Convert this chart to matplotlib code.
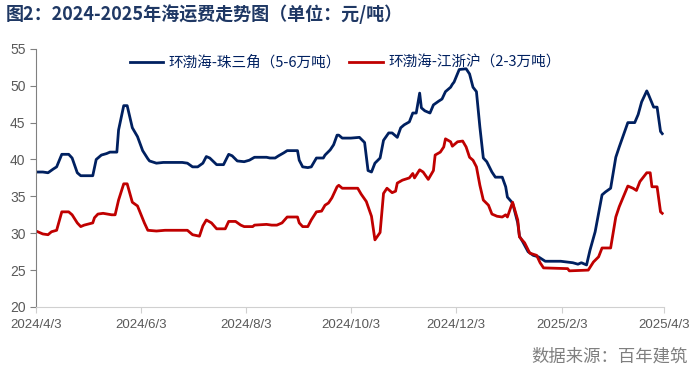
import matplotlib
matplotlib.use("Agg")
import matplotlib.pyplot as plt
import pandas as pd

plt.rcParams['font.family'] = ['Noto Sans CJK SC', 'DejaVu Sans']

start = pd.Timestamp("2024-04-03")

# 环渤海-珠三角（5-6万吨）: days since 2024/4/3, freight (元/吨)
north_south_days = [0, 4, 7, 10, 12, 15, 19, 21, 24, 26, 33, 35, 38, 41, 43, 47, 48, 51, 53, 56,
                    59, 62, 65, 66, 70, 74, 85, 88, 91, 94, 97, 99, 101, 105, 109, 112, 114, 117,
                    121, 124, 127, 134, 136, 139, 141, 144, 146, 152, 153, 155, 158, 160, 163,
                    167, 168, 171, 173, 175, 176, 178, 183, 188, 191, 193, 195, 197, 200, 202,
                    205, 207, 210, 212, 214, 217, 219, 221, 223, 224, 226, 229, 231, 234, 236,
                    238, 241, 242, 243, 246, 250, 252, 254, 256, 258, 260, 262, 265, 267, 271,
                    273, 274, 277, 280, 281, 283, 286, 289, 292, 294, 296, 305, 312, 315, 317,
                    320, 322, 325, 329, 331, 334, 337, 339, 344, 348, 350, 352, 355, 356, 359,
                    361, 363, 364]
north_south = [38.3, 38.3, 38.2, 38.7, 39.0, 40.7, 40.7, 40.2, 38.2, 37.8, 37.8, 40.0, 40.6, 40.8,
               41.0, 41.0, 44.0, 47.3, 47.3, 44.3, 43.1, 41.2, 40.1, 39.8, 39.5, 39.6, 39.6, 39.5,
               39.0, 39.0, 39.5, 40.4, 40.2, 39.3, 39.3, 40.7, 40.5, 39.8, 39.7, 39.9, 40.3, 40.3,
               40.2, 40.2, 40.5, 40.9, 41.2, 41.2, 39.9, 39.0, 38.9, 39.0, 40.2, 40.2, 40.6, 41.3,
               42.0, 43.3, 43.3, 42.9, 42.9, 43.0, 42.3, 38.5, 38.3, 39.5, 40.2, 42.6, 43.6, 43.6,
               43.0, 44.3, 44.7, 45.1, 46.3, 46.3, 49.0, 47.0, 46.6, 46.3, 47.4, 47.9, 48.2, 49.2,
               49.8, 50.2, 50.5, 52.2, 52.3, 51.6, 49.8, 49.2, 44.4, 40.2, 39.7, 38.3, 37.6, 37.6,
               36.3, 34.9, 34.1, 31.4, 29.6, 28.8, 27.5, 27.0, 26.8, 26.5, 26.2, 26.2, 26.0, 25.8,
               26.0, 25.7, 27.7, 30.2, 35.2, 35.6, 36.1, 40.3, 41.7, 45.0, 45.0, 46.1, 47.8, 49.3,
               48.8, 47.1, 47.1, 43.8, 43.5]

# 环渤海-江浙沪（2-3万吨）
north_east_days = [0, 4, 7, 9, 12, 15, 19, 21, 24, 26, 28, 33, 34, 36, 39, 44, 46, 48, 51, 53,
                   56, 59, 63, 65, 70, 75, 88, 91, 95, 97, 99, 102, 105, 110, 112, 116, 119, 121,
                   126, 127, 134, 137, 140, 143, 146, 152, 153, 155, 158, 160, 163, 166, 168,
                   170, 172, 175, 176, 178, 187, 189, 192, 195, 197, 200, 202, 204, 207, 209,
                   210, 213, 217, 219, 220, 223, 225, 228, 231, 232, 235, 237, 238, 241, 242,
                   245, 248, 250, 252, 254, 256, 258, 260, 263, 265, 268, 271, 273, 274, 277,
                   280, 281, 284, 287, 291, 293, 295, 309, 310, 321, 324, 327, 329, 334, 337,
                   339, 344, 347, 349, 351, 355, 357, 358, 361, 363, 364]
north_east = [30.3, 29.9, 29.8, 30.2, 30.4, 32.9, 32.9, 32.5, 31.4, 30.9, 31.1, 31.4, 32.1, 32.6,
              32.7, 32.5, 32.5, 34.5, 36.7, 36.7, 34.2, 33.7, 31.4, 30.4, 30.3, 30.4, 30.4, 29.8,
              29.6, 31.0, 31.8, 31.4, 30.6, 30.6, 31.6, 31.6, 31.1, 30.9, 30.9, 31.1, 31.2, 31.1,
              31.1, 31.4, 32.2, 32.2, 31.4, 30.9, 30.9, 31.8, 32.9, 33.0, 33.8, 34.1, 34.8, 36.3,
              36.5, 36.1, 36.1, 35.3, 34.3, 32.3, 29.1, 30.1, 35.4, 36.1, 35.5, 35.7, 36.8, 37.2,
              37.5, 38.1, 37.5, 38.6, 38.3, 37.3, 38.5, 40.6, 41.0, 41.7, 42.8, 42.4, 41.8, 42.4,
              42.5, 41.7, 40.3, 39.9, 39.0, 36.5, 34.5, 33.8, 32.6, 32.3, 32.2, 32.5, 32.2, 34.2,
              31.8, 29.5, 28.7, 27.3, 27.0, 26.0, 25.3, 25.2, 24.9, 25.0, 26.1, 26.8, 28.0, 28.0,
              32.2, 33.6, 36.4, 36.1, 35.8, 37.0, 38.2, 38.2, 36.3, 36.3, 32.9, 32.7]

tick_dates = ["2024-04-03", "2024-06-03", "2024-08-03", "2024-10-03",
              "2024-12-03", "2025-02-03", "2025-04-03"]

navy = "#002060"
red = "#C00000"
grey = "#595959"

fig = plt.figure(figsize=(6.92, 3.73), dpi=100)
ax = fig.add_axes([0.052, 0.177, 0.9075, 0.692])

x1 = start + pd.to_timedelta(north_south_days, unit="D")
x2 = start + pd.to_timedelta(north_east_days, unit="D")
ax.plot(x1, north_south, color=navy, lw=2.0, label="环渤海-珠三角（5-6万吨）")
ax.plot(x2, north_east, color=red, lw=2.0, label="环渤海-江浙沪（2-3万吨）")

ax.set_ylim(20, 55)
ax.set_yticks(range(20, 56, 5))
ticks = pd.to_datetime(tick_dates)
ax.set_xlim(ticks[0], ticks[-1])
ax.set_xticks(ticks)
ax.set_xticklabels([f"{t.year}/{t.month}/{t.day}" for t in ticks])

for s in ["top", "right"]:
    ax.spines[s].set_visible(False)
ax.spines["left"].set_color("#808080")
ax.spines["bottom"].set_color("#d0d0d0")
ax.tick_params(axis="y", colors="#808080", labelcolor=grey, labelsize=10, length=4, direction="out")
ax.tick_params(axis="x", colors="#d0d0d0", labelcolor=grey, labelsize=9.5, length=4, pad=5)
for lbl in ax.get_xticklabels() + ax.get_yticklabels():
    lbl.set_family(["Liberation Sans", "DejaVu Sans"])

leg = ax.legend(loc="upper center", bbox_to_anchor=(0.492, 1.025), ncol=2, frameon=False,
                fontsize=10.5, handlelength=2.3, columnspacing=0.6, handletextpad=0.35)
for t in leg.get_texts():
    t.set_color(navy)

fig.text(0.008, 0.962, "图2：2024-2025年海运费走势图（单位：元/吨）", color="#1f3864",
         fontsize=13, fontweight="bold", va="center", ha="left")
fig.text(0.994, 0.043, "数据来源：百年建筑", color="#7f7f7f", fontsize=12.5,
         va="center", ha="right")

fig.savefig("out.png", dpi=100)
